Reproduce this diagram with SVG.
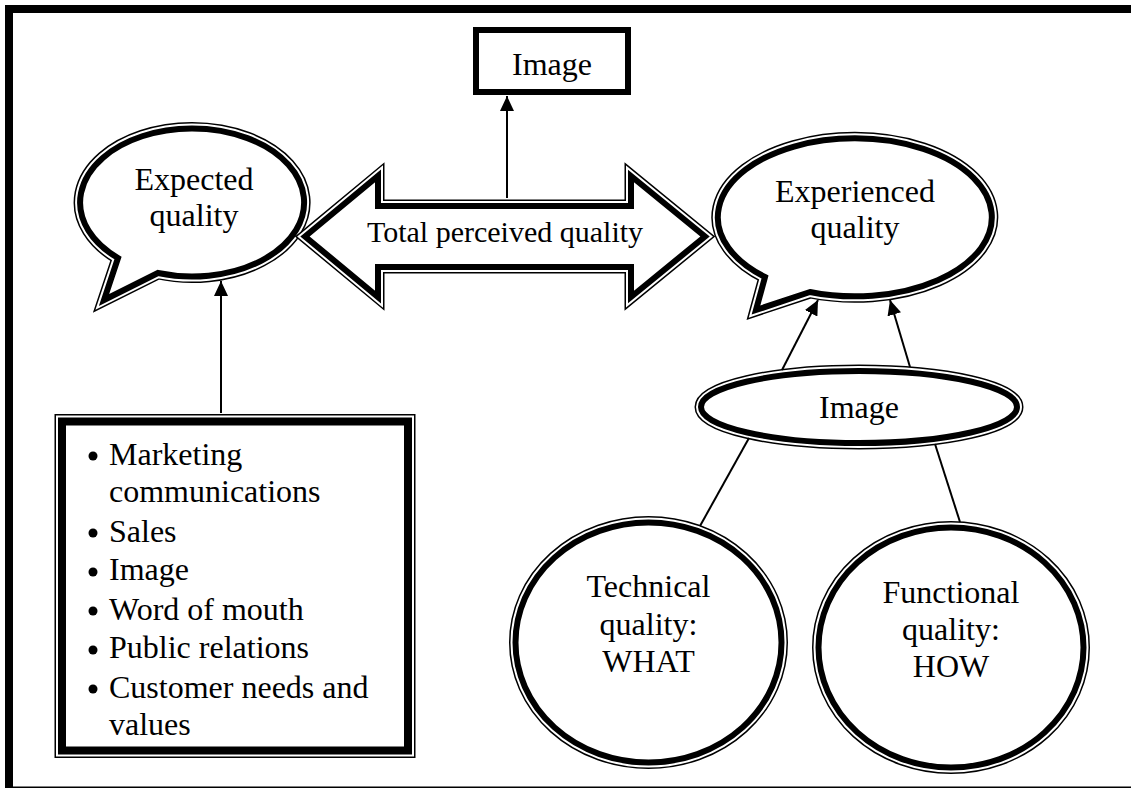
<svg xmlns="http://www.w3.org/2000/svg" width="1131" height="790" viewBox="0 0 1131 790">
  <style>
    text { font-family: "Liberation Serif", "Times New Roman", serif; font-size: 32px; fill: #000; text-anchor: middle; }
    .small { font-size: 30px; }
    .left { text-anchor: start; }
    /* thick-thin double outline: thin outer line, white gap, thick inner line */
    .o1 { fill: none; stroke: #000; stroke-width: 13; stroke-linejoin: miter; stroke-miterlimit: 8; }
    .o2 { fill: #fff; stroke: #fff; stroke-width: 10; stroke-linejoin: miter; stroke-miterlimit: 8; }
    .o3 { fill: none; stroke: #000; stroke-width: 6; stroke-linejoin: miter; stroke-miterlimit: 8; }
    .b1 { fill: none; stroke: #000; stroke-width: 15; stroke-linejoin: miter; }
    .b2 { fill: #fff; stroke: #fff; stroke-width: 12; stroke-linejoin: miter; }
    .b3 { fill: none; stroke: #000; stroke-width: 8; stroke-linejoin: miter; }
    .plain { fill: #fff; stroke: #000; stroke-width: 6; }
    .conn { fill: none; stroke: #000; stroke-width: 2; }
    .arrow { marker-end: url(#head); }
  </style>
  <defs>
    <marker id="head" markerUnits="userSpaceOnUse" markerWidth="16" markerHeight="14" refX="15" refY="7" orient="auto">
      <path d="M0,0 L15,7 L0,14 Z" fill="#000"/>
    </marker>
    <path id="shpExpected" d="M158,273 A112,74 0 1 0 118,258 L104,300 Z"/>
    <path id="shpExperienced" d="M810,292 A137,79 0 1 0 765,277 L756,310 Z"/>
    <path id="shpTotal" d="M305,236.5 L378,176 L378,206 L631,206 L631,176 L705,236.5 L631,297 L631,267 L378,267 L378,297 Z"/>
    <ellipse id="shpImage2" cx="859" cy="407" rx="158" ry="36"/>
    <ellipse id="shpTech" cx="648.5" cy="642.5" rx="133" ry="120"/>
    <ellipse id="shpFunc" cx="951" cy="647.5" rx="132.5" ry="120"/>
    <rect id="shpSources" x="62" y="421.5" width="346" height="329"/>
  </defs>

  <!-- page frame -->
  <g id="frame">
    <rect x="5" y="5" width="1126" height="8" fill="#000"/>
    <rect x="5" y="5" width="8" height="783" fill="#000"/>
    <rect x="5" y="786.5" width="1126" height="1.5" fill="#000"/>
  </g>

  <g id="node-image-top">
    <rect class="plain" x="476" y="30" width="152" height="62"/>
    <text x="552" y="75">Image</text>
  </g>

  <g id="node-expected">
    <use href="#shpExpected" class="o1"/>
    <use href="#shpExpected" class="o2"/>
    <use href="#shpExpected" class="o3"/>
    <text x="194" y="190">Expected</text>
    <text x="194" y="226">quality</text>
  </g>

  <g id="node-experienced">
    <use href="#shpExperienced" class="o1"/>
    <use href="#shpExperienced" class="o2"/>
    <use href="#shpExperienced" class="o3"/>
    <text x="855" y="202">Experienced</text>
    <text x="855" y="238">quality</text>
  </g>

  <g id="node-total">
    <use href="#shpTotal" class="o1"/>
    <use href="#shpTotal" class="o2"/>
    <use href="#shpTotal" class="o3"/>
    <text class="small" x="505" y="242">Total perceived quality</text>
  </g>

  <g id="node-image-mid">
    <use href="#shpImage2" class="o1"/>
    <use href="#shpImage2" class="o2"/>
    <use href="#shpImage2" class="o3"/>
    <text x="859" y="418">Image</text>
  </g>

  <g id="node-technical">
    <use href="#shpTech" class="o1"/>
    <use href="#shpTech" class="o2"/>
    <use href="#shpTech" class="o3"/>
    <text x="648.5" y="597">Technical</text>
    <text x="648.5" y="635">quality:</text>
    <text x="648.5" y="672">WHAT</text>
  </g>

  <g id="node-functional">
    <use href="#shpFunc" class="o1"/>
    <use href="#shpFunc" class="o2"/>
    <use href="#shpFunc" class="o3"/>
    <text x="951" y="603">Functional</text>
    <text x="951" y="640">quality:</text>
    <text x="951" y="677">HOW</text>
  </g>

  <g id="node-sources">
    <use href="#shpSources" class="b1"/>
    <use href="#shpSources" class="b2"/>
    <use href="#shpSources" class="b3"/>
    <g fill="#000">
      <circle cx="93" cy="456" r="4.5"/>
      <circle cx="93" cy="533" r="4.5"/>
      <circle cx="93" cy="572" r="4.5"/>
      <circle cx="93" cy="611" r="4.5"/>
      <circle cx="93" cy="650" r="4.5"/>
      <circle cx="93" cy="689" r="4.5"/>
    </g>
    <text class="left" x="109" y="465">Marketing</text>
    <text class="left" x="109" y="502">communications</text>
    <text class="left" x="109" y="542">Sales</text>
    <text class="left" x="109" y="580">Image</text>
    <text class="left" x="109" y="620">Word of mouth</text>
    <text class="left" x="109" y="658">Public relations</text>
    <text class="left" x="109" y="698">Customer needs and</text>
    <text class="left" x="109" y="735">values</text>
  </g>

  <g id="connectors">
    <line class="conn arrow" x1="221" y1="413" x2="221" y2="281"/>
    <line class="conn arrow" x1="507" y1="198" x2="507" y2="96"/>
    <line class="conn arrow" x1="782" y1="370" x2="818" y2="300"/>
    <line class="conn arrow" x1="910" y1="367" x2="890" y2="300"/>
    <line class="conn" x1="749" y1="438" x2="700" y2="526"/>
    <line class="conn" x1="935" y1="444" x2="960" y2="522"/>
  </g>
</svg>
